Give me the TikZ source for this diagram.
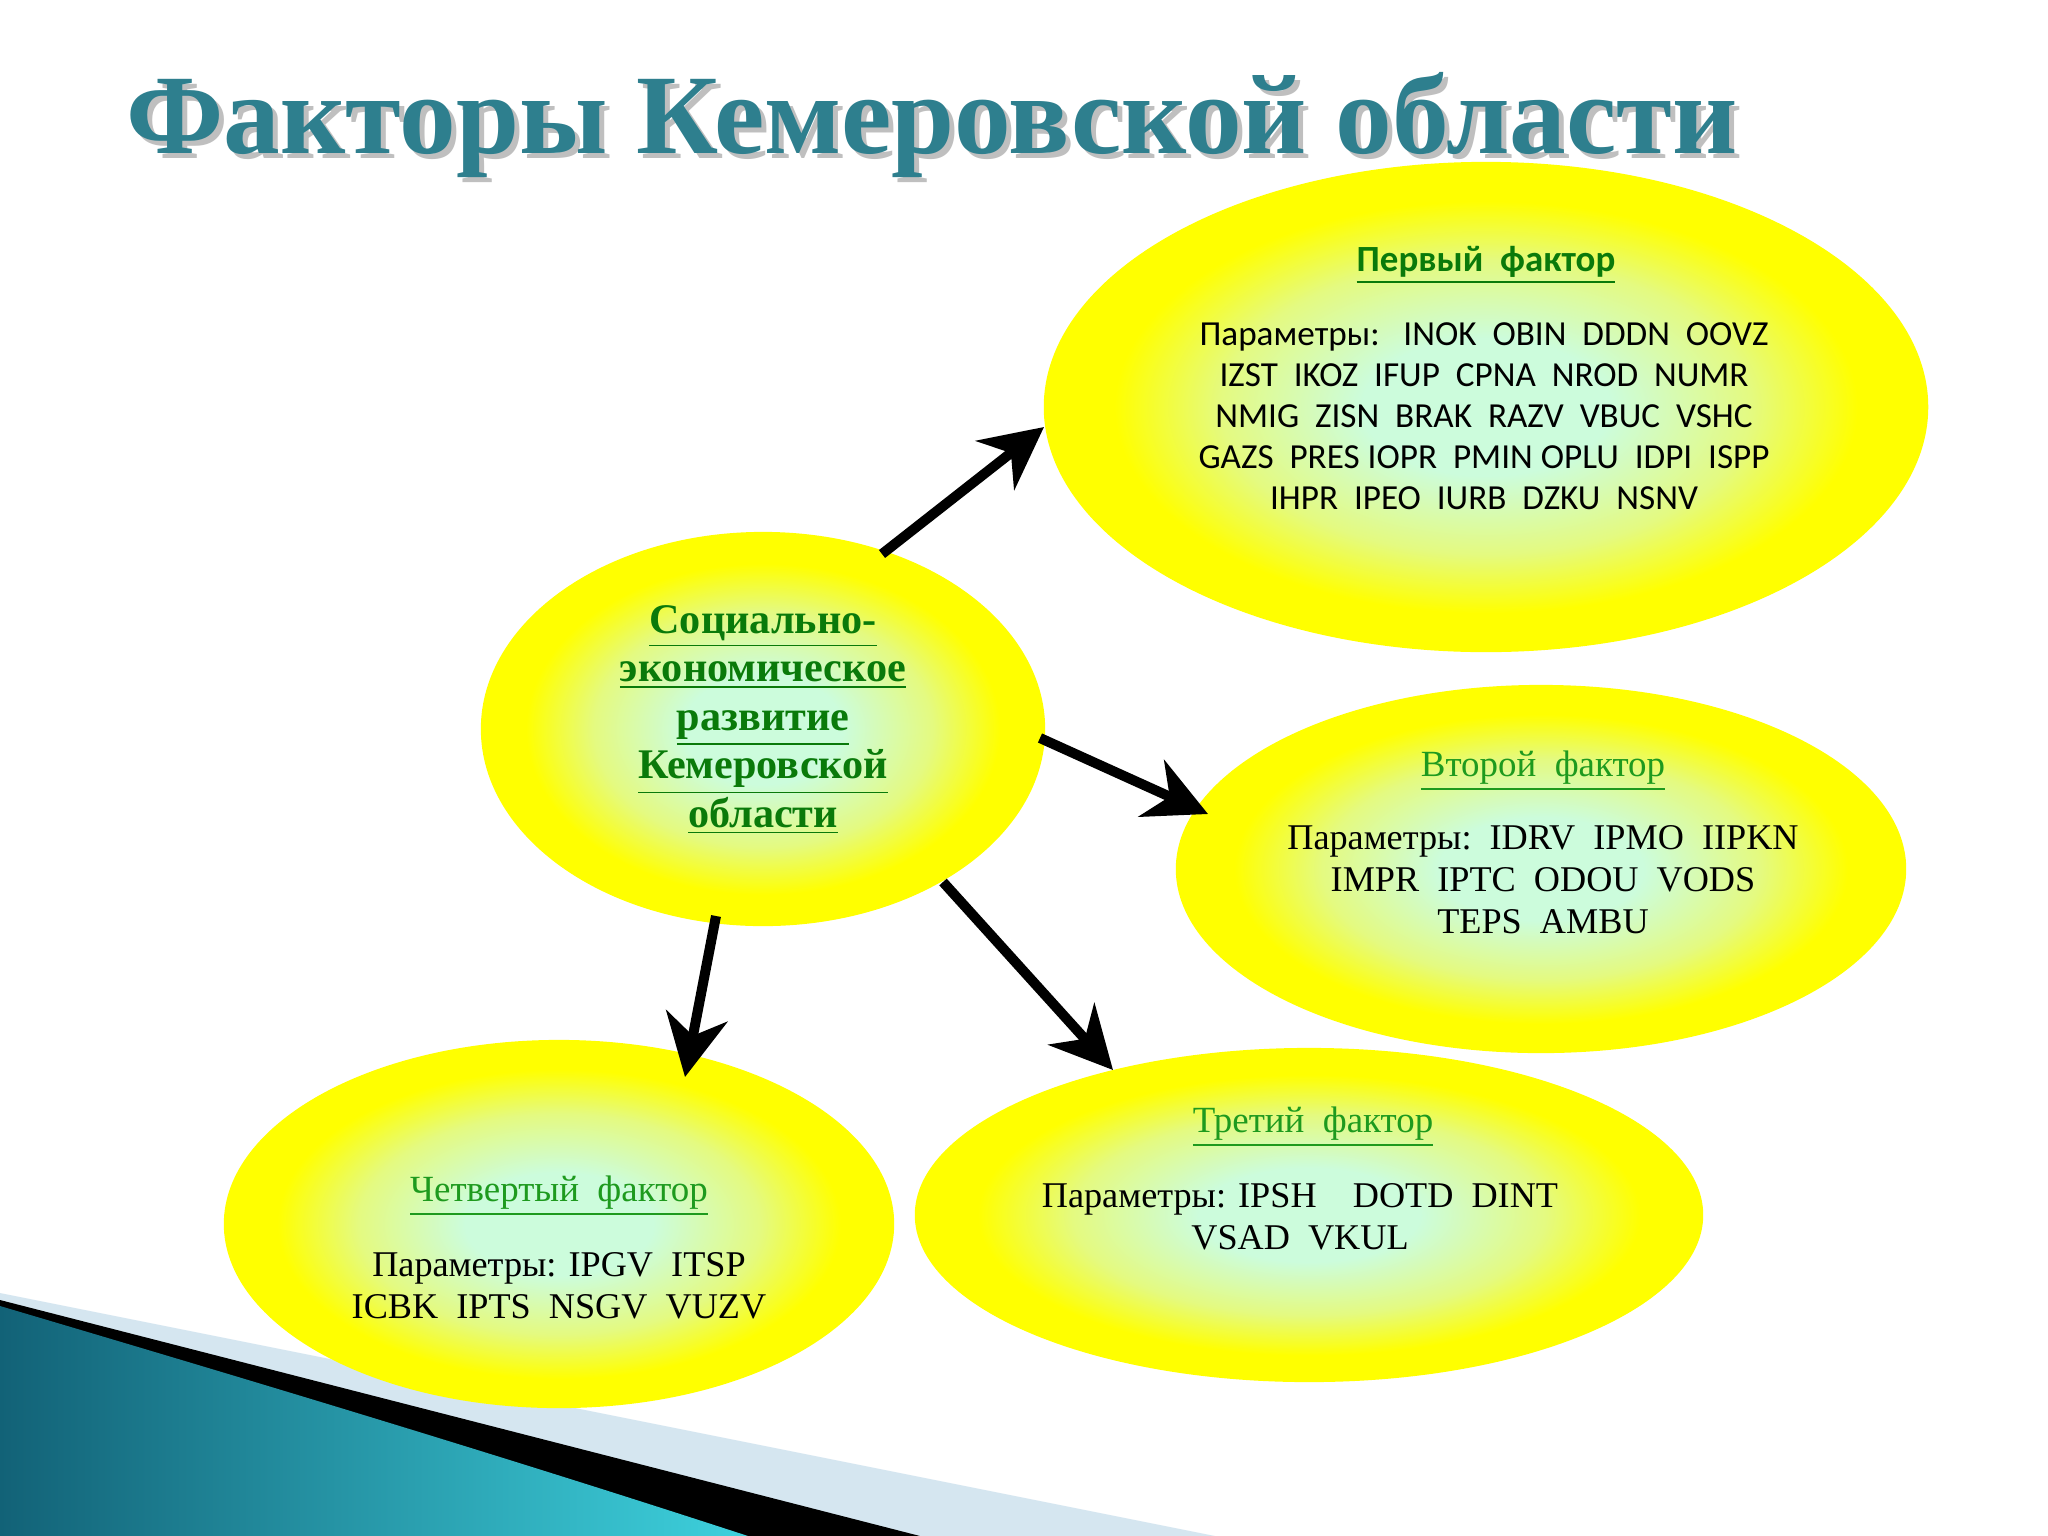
\documentclass[tikz,border=0pt]{standalone}
\usepackage{fontspec}
\setmainfont{Liberation Serif}
\newfontfamily\carl{Carlito}
\usetikzlibrary{shapes.geometric,arrows.meta}
\definecolor{ttl}{HTML}{2E7F8E}
\definecolor{dg}{HTML}{0A7A0A}
\definecolor{lg}{HTML}{1E9A1E}
\definecolor{inn}{HTML}{CCFCDC}
\definecolor{mid}{HTML}{E4FA80}
\definecolor{teal}{HTML}{1A8CAA}
\definecolor{lb}{HTML}{D5E6F0}
\pgfdeclareradialshading{blobsh}{\pgfpoint{0bp}{0bp}}{color(0bp)=(inn); color(7bp)=(inn); color(15bp)=(mid); color(21bp)=(yellow); color(50bp)=(yellow)}
\tikzset{
 blob/.style={ellipse,draw=none,shading=blobsh},
 arr/.style={line width=0.1cm,-{Stealth[length=0.62cm,width=0.62cm,inset=0.2cm]}},
 txt/.style={align=center,inner sep=0pt}
}
\begin{document}
\begin{tikzpicture}[x=0.01cm,y=-0.01cm]
\useasboundingbox (0,0) rectangle (2048,1536);
\fill[white] (0,0) rectangle (2048,1536);
% decoration
\fill[lb] (0,1293) -- (1215,1536) -- (0,1536) -- cycle;
\fill[black] (0,1300) -- (920,1536) -- (0,1536) -- cycle;
\fill[left color=teal!70!black,right color=teal!50!cyan!80!white] (0,1306) .. controls (250,1380) and (500,1455) .. (748,1536) -- (0,1536) -- cycle;
% title
\node[txt,text=black!25] (tsh) at (937,130) {\resizebox{16.1cm}{!}{\bfseries Факторы Кемеровской области}};
\node[txt,text=ttl] (title) at (932,125) {\resizebox{16.1cm}{!}{\bfseries Факторы Кемеровской области}};
% ellipses
\node[blob,minimum width=8.84cm,minimum height=4.9cm] (f1) at (1486,407) {};
\node[blob,minimum width=5.64cm,minimum height=3.94cm] (c) at (763,729) {};
\node[blob,minimum width=7.3cm,minimum height=3.68cm] (f2) at (1541,869) {};
\node[blob,minimum width=7.88cm,minimum height=3.34cm] (f3) at (1309,1215) {};
\node[blob,minimum width=6.7cm,minimum height=3.68cm] (f4) at (559,1224) {};
% texts
\node[txt,text=dg,font=\carl\bfseries\fontsize{10.5}{12}\selectfont] (h1) at (1486,265) {\underline{Первый\ \ фактор}};
\node[txt,font=\carl\fontsize{10}{11.7}\selectfont] (p1) at (1484,416) {Параметры:\ \ \ INOK\ \ OBIN\ \ DDDN\ \ OOVZ\\IZST\ \ IKOZ\ \ IFUP\ \ CPNA\ \ NROD\ \ NUMR\\NMIG\ \ ZISN\ \ BRAK\ \ RAZV\ \ VBUC\ \ VSHC\\GAZS\ \ PRES IOPR\ \ PMIN OPLU\ \ IDPI\ \ ISPP\\IHPR\ \ IPEO\ \ IURB\ \ DZKU\ \ NSNV};
\node[txt,text=dg,font=\bfseries\fontsize{12}{13.8}\selectfont] (ct) at (763,720) {\underline{Социально-}\\\underline{экономическое}\\\underline{развитие}\\\underline{Кемеровской}\\\underline{области}};
\node[txt,text=lg,font=\fontsize{10.5}{12}\selectfont] (h2) at (1543,771) {\underline{Второй\ \ фактор}};
\node[txt,font=\fontsize{10.3}{11.9}\selectfont] (p2) at (1543,880) {Параметры:\ \ IDRV\ \ IPMO\ \ IIPKN\\IMPR\ \ IPTC\ \ ODOU\ \ VODS\\TEPS\ \ AMBU};
\node[txt,text=lg,font=\fontsize{10.5}{12}\selectfont] (h3) at (1313,1127) {\underline{Третий\ \ фактор}};
\node[txt,font=\fontsize{10.3}{11.9}\selectfont] (p3) at (1300,1217) {Параметры: IPSH\ \ \ \ DOTD\ \ DINT\\VSAD\ \ VKUL};
\node[txt,text=lg,font=\fontsize{10.5}{12}\selectfont] (h4) at (559,1196) {\underline{Четвертый\ \ фактор}};
\node[txt,font=\fontsize{10.3}{11.9}\selectfont] (p4) at (559,1286) {Параметры: IPGV\ \ ITSP\\ICBK\ \ IPTS\ \ NSGV\ \ VUZV};
% arrows
\coordinate (a1s) at (882,554); \coordinate (a1e) at (1044,427);
\coordinate (a2s) at (1040,738); \coordinate (a2e) at (1208,814);
\coordinate (a3s) at (943,882); \coordinate (a3e) at (1113,1070);
\coordinate (a4s) at (716,916); \coordinate (a4e) at (685,1077);
\draw[arr] (a1s) -- (a1e);
\draw[arr] (a2s) -- (a2e);
\draw[arr] (a3s) -- (a3e);
\draw[arr] (a4s) -- (a4e);
\end{tikzpicture}
\end{document}
